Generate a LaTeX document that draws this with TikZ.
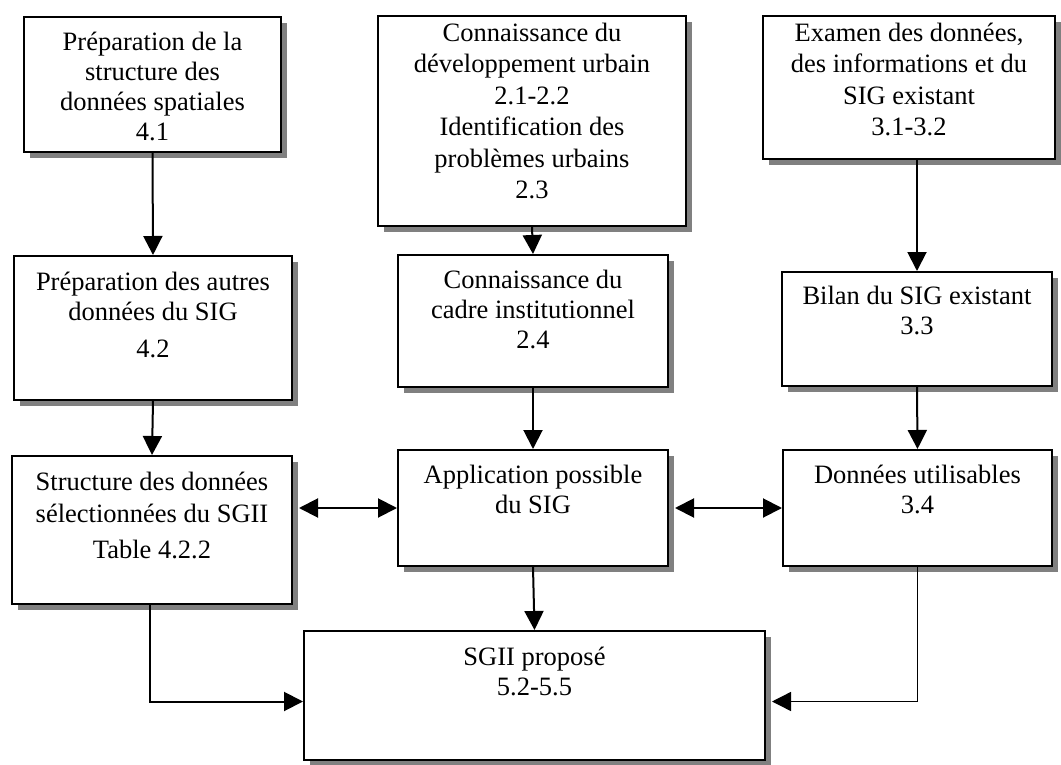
\documentclass[tikz,border=0pt]{standalone}
\usepackage{fontspec}
\setmainfont{Liberation Serif}
\usetikzlibrary{arrows.meta,shadows}
\definecolor{shadowgray}{gray}{0.5}
\begin{document}
\begin{tikzpicture}[x=1pt,y=-1pt,
  box/.style={draw=black, line width=2pt, fill=white, rectangle, inner sep=0pt,
    anchor=north west,
    general shadow={fill=shadowgray, shadow xshift=6pt, shadow yshift=-6pt}},
  lbl/.style={anchor=north, inner sep=0pt, align=center,
    font=\fontsize{26.5}{30}\selectfont},
  tall/.style={font=\fontsize{26.5}{31.5}\selectfont},
  tip/.style={-{Triangle[length=19pt,width=19pt]}},
  link/.style={line width=2pt, tip},
  both/.style={line width=2pt,
    {Triangle[length=19pt,width=19pt]}-{Triangle[length=19pt,width=19pt]}}]

\useasboundingbox (0,0) rectangle (1061,765);

% boxes
\node[box, minimum width=257pt, minimum height=135pt] (a) at (23,16) {};
\node[box, minimum width=308pt, minimum height=210pt] (b) at (377,15) {};
\node[box, minimum width=292pt, minimum height=143pt] (c) at (762,15) {};
\node[box, minimum width=278pt, minimum height=144pt] (d) at (13,255) {};
\node[box, minimum width=270pt, minimum height=132pt] (e) at (397,254) {};
\node[box, minimum width=270pt, minimum height=114pt] (f) at (781,271) {};
\node[box, minimum width=280pt, minimum height=148pt] (g) at (11,455) {};
\node[box, minimum width=270pt, minimum height=116pt] (h) at (397,449) {};
\node[box, minimum width=269pt, minimum height=116pt] (i) at (782,449) {};
\node[box, minimum width=461pt, minimum height=129pt] (j) at (303,630) {};

% box texts
\node[lbl] (at) at ([yshift=-13pt]a.north)
  {\strut Préparation de la\\structure des\\données spatiales\\4.1};
\node[lbl, tall] (bt) at ([yshift=-4pt]b.north)
  {\strut Connaissance du\\développement urbain\\2.1-2.2\\Identification des\\problèmes urbains\\2.3};
\node[lbl, tall] (ct) at ([yshift=-4pt]c.north)
  {\strut Examen des données,\\des informations et du\\SIG existant\\3.1-3.2};
\node[lbl] (dt) at ([yshift=-14pt]d.north)
  {\strut Préparation des autres\\données du SIG\\[7pt]4.2};
\node[lbl] (et) at ([yshift=-13pt]e.north)
  {\strut Connaissance du\\cadre institutionnel\\2.4};
\node[lbl] (ft) at ([yshift=-12pt]f.north)
  {\strut Bilan du SIG existant\\3.3};
\node[lbl] (gt) at ([yshift=-14pt]g.north)
  {\strut Structure des données\\[2pt]sélectionnées du SGII\\[6pt]Table 4.2.2};
\node[lbl] (ht) at ([yshift=-13pt]h.north)
  {\strut Application possible\\du SIG};
\node[lbl] (it) at ([yshift=-13pt]i.north)
  {\strut Données utilisables\\3.4};
\node[lbl] (jt) at ([yshift=-14pt]j.north)
  {\strut SGII proposé\\5.2-5.5};

% connectors
\draw[link] (a.south) -- (d.north);
\draw[link] (b.south) -- (e.north);
\draw[link] (f.north |- c.south) -- (f.north);
\draw[link] (d.south) -- (g.north);
\draw[link] (e.south) -- (h.north);
\draw[link] (f.south) -- (i.north);
\draw[link] (h.south) -- (j.north);
\draw[both] ([xshift=6pt]g.east |- h.west) -- (h.west);
\draw[both] ([xshift=6pt]h.east) -- (i.west);
\draw[link] ([xshift=-2pt]g.south) |- ([yshift=-6pt]j.west);
\draw[link, line width=1.4pt] (i.south) |- ([xshift=6pt,yshift=-6pt]j.east);
\end{tikzpicture}
\end{document}
